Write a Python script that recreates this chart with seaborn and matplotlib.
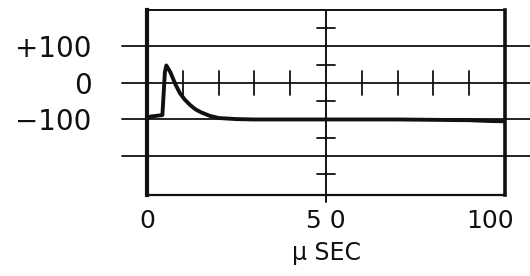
import numpy as np
import pandas as pd
import seaborn as sns
import matplotlib.pyplot as plt
from matplotlib.transforms import ScaledTranslation

# trace (time in microseconds, amplitude)
t_usec = [0, 1, 4.3, 5.0, 5.4, 6.5, 8.0, 9.2, 10.5, 12, 13.5, 15, 17.5, 20, 25, 30,
          40, 50, 60, 70, 80, 90, 95, 100]
amp = [-98, -92, -88, 30, 48, 30, -5, -28, -45, -60, -72, -80, -90, -96, -99, -100,
       -100, -100, -100, -100, -101, -102, -104, -105]

y_ticks = [100, 0, -100]
y_labels = ["+100", "0", "\u2212100"]
x_ticks = [0, 50, 100]
x_labels = ["0", "5 0", "100"]
grid_levels = [100, 0, -100, -200]
minor_x = [10, 20, 30, 40, 60, 70, 80, 90]
minor_y = [150, 50, -50, -150, -250]

df = pd.DataFrame({"t": t_usec, "v": amp})

sns.set_style("white")
plt.rcParams['font.family'] = ['DejaVu Sans']

fig = plt.figure(figsize=(5.30, 2.76), dpi=100)
ax = fig.add_axes([147 / 530, 1 - 195 / 276, 358 / 530, 185 / 276])
ax.set_xlim(0, 100)
ax.set_ylim(-307, 200)

ink = "#111111"

# horizontal graticule lines running past the frame
for lv in grid_levels:
    ax.axhline(lv, xmin=-0.07, xmax=1.07, color=ink, lw=1.3, clip_on=False, zorder=1)
# centre vertical line
ax.axvline(50, ymin=-0.04, ymax=1.0, color=ink, lw=1.4, clip_on=False, zorder=1)
# small ticks on the zero line
for mx in minor_x:
    ax.plot([mx, mx], [-32, 32], color=ink, lw=1.3, zorder=1)
# small ticks on the centre line
for my in minor_y:
    ax.plot([47.5, 52.5], [my, my], color=ink, lw=1.3, zorder=1)

sns.lineplot(data=df, x="t", y="v", ax=ax, color=ink, lw=2.8, zorder=3)

for side, w in [("left", 3.0), ("right", 2.6), ("top", 1.4), ("bottom", 1.6)]:
    ax.spines[side].set_visible(True)
    ax.spines[side].set_color(ink)
    ax.spines[side].set_linewidth(w)

ax.set_yticks(y_ticks)
ax.set_yticklabels(y_labels, fontsize=20, color=ink)
ax.set_xticks(x_ticks)
ax.set_xticklabels(x_labels, fontsize=18, color=ink)
ax.tick_params(axis="y", length=0, pad=40)
ax.tick_params(axis="x", length=0, pad=10)
lab100 = ax.get_xticklabels()[2]
lab100.set_transform(lab100.get_transform() + ScaledTranslation(-15 / 100, 0, fig.dpi_scale_trans))

ax.set_xlabel("\u03bc SEC", fontsize=17, labelpad=6, color=ink)
ax.set_ylabel("")

fig.savefig("out.png", dpi=100)
